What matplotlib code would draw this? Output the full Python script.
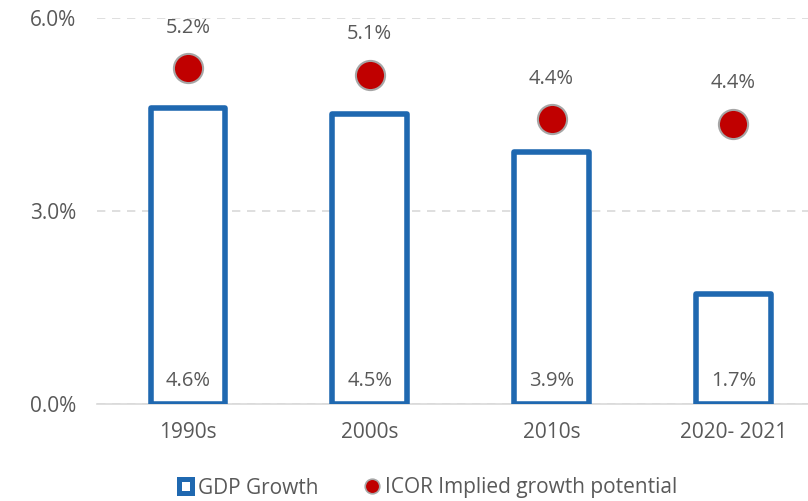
import matplotlib.pyplot as plt
from matplotlib.lines import Line2D
from matplotlib.patches import Patch

# Data
periods = ["1990s", "2000s", "2010s", "2020- 2021"]
gdp_growth = [4.6, 4.51, 3.92, 1.71]
icor_potential = [5.22, 5.12, 4.43, 4.36]

blue = "#1f68b0"
red = "#c00000"
grey_text = "#595959"

plt.rcParams['font.family'] = ['Open Sans', 'DejaVu Sans']

fig = plt.figure(figsize=(8.08, 5.01), dpi=100)
ax = fig.add_axes([97 / 808, 1 - 404 / 501, (808 - 97) / 808, (404 - 18) / 501])

x = range(len(periods))
ax.bar(x, gdp_growth, width=0.41, facecolor="white", edgecolor=blue, linewidth=4,
       joinstyle="round", zorder=3)
ax.plot(x, icor_potential, linestyle="none", marker="o", markersize=21,
        markerfacecolor=red, markeredgecolor="#a6a6a6", markeredgewidth=1.5, zorder=4)

for i, v in enumerate(gdp_growth):
    ax.text(i, 0.35, f"{v:.1f}%", ha="center", va="center", fontsize=14.5, color=grey_text, zorder=5)
for i, v in enumerate(icor_potential):
    ax.annotate(f"{v:.1f}%", (i, v), xytext=(0, 29), textcoords="offset points",
                ha="center", va="center", fontsize=14.5, color=grey_text, zorder=5)

ax.set_ylim(0, 6)
ax.set_xlim(-0.5, 3.41)
ax.set_yticks([0, 3, 6])
ax.set_yticklabels(["0.0%", "3.0%", "6.0%"])
ax.set_xticks(list(x))
ax.set_xticklabels(periods)
ax.tick_params(axis="both", length=0, labelsize=15, colors=grey_text)
ax.tick_params(axis="y", pad=15)
ax.tick_params(axis="x", pad=13)

ax.grid(axis="y", linestyle=(0, (5, 4)), color="#d9d9d9", linewidth=1.2, zorder=0)
for s in ["top", "right", "left"]:
    ax.spines[s].set_visible(False)
ax.spines["bottom"].set_color("#d9d9d9")
ax.spines["bottom"].set_linewidth(1.2)

handles = [
    Patch(facecolor="white", edgecolor=blue, linewidth=3.6, joinstyle="round"),
    Line2D([], [], linestyle="none", marker="o", markersize=10.5,
           markerfacecolor=red, markeredgecolor="#a6a6a6", markeredgewidth=1.2),
]
fig.legend(handles, ["GDP Growth", "ICOR Implied growth potential"], loc="center",
           bbox_to_anchor=(428 / 808, 1 - 488 / 501), ncol=2, frameon=False,
           fontsize=15, labelcolor=grey_text, handlelength=0.62, handleheight=0.62,
           handletextpad=0.3, columnspacing=2.25)

fig.savefig("out.png", dpi=100)
